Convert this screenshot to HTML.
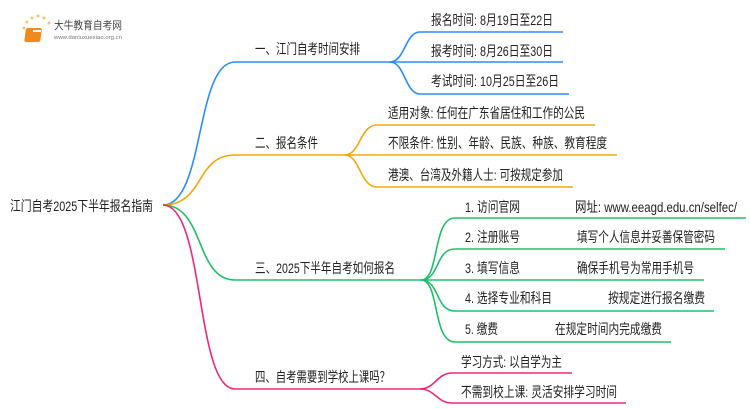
<!DOCTYPE html>
<html><head><meta charset="utf-8"><style>
html,body{margin:0;padding:0;background:#fff;}
svg{display:block;}
text{font-family:"Liberation Sans","Noto Sans CJK SC",sans-serif;font-size:14px;fill:#222;dominant-baseline:central;}
</style></head><body>
<svg width="750" height="410" viewBox="0 0 750 410" xmlns="http://www.w3.org/2000/svg">
<g>
<circle cx="24" cy="28" r="1.5" fill="#f6c46a"/><circle cx="27" cy="22" r="1.5" fill="#f6c46a"/><circle cx="32" cy="18" r="1.5" fill="#f6c46a"/><circle cx="38" cy="16" r="1.5" fill="#f6c46a"/><circle cx="44" cy="18" r="1.5" fill="#f6c46a"/><circle cx="49" cy="23" r="1.5" fill="#f6c46a"/>
<rect x="30" y="28" width="16" height="14" rx="2" fill="#f08a1c" transform="skewX(-8)"/>
<rect x="33" y="30" width="8" height="2" fill="#fff"/>
<text x="54" y="26" textLength="68" lengthAdjust="spacingAndGlyphs" style="font-size:11px;fill:#444">大牛教育自考网</text>
<text x="54" y="38" textLength="68" lengthAdjust="spacingAndGlyphs" style="font-size:5px;fill:#777">www.daniuxuexiao.org.cn</text>
</g>
<text x="10" y="206" textLength="143" lengthAdjust="spacingAndGlyphs">江门自考2025下半年报名指南</text>
<g fill="none" stroke-width="1.6">
<path d="M163 205 C205 205,195 62,235 62 L375 62" stroke="#2b8cff"/>
<path d="M163 205 C205 205,195 155,235 155 L345 155" stroke="#f2a80c"/>
<path d="M163 205 C205 205,195 280,235 280 L421 280" stroke="#1fbf6a"/>
<path d="M163 205 C205 205,195 389,235 389 L420 389" stroke="#f0287a"/>
<path d="M390 62 C405 62,405 32,420 32 L563 32" stroke="#2b8cff"/>
<path d="M375 62 L563 62" stroke="#2b8cff"/>
<path d="M390 62 C405 62,405 94,420 94 L569 94" stroke="#2b8cff"/>
<path d="M345 155 C360 155,360 125,377 125 L595 125" stroke="#f2a80c"/>
<path d="M345 155 L617 155" stroke="#f2a80c"/>
<path d="M345 155 C360 155,360 187,377 187 L573 187" stroke="#f2a80c"/>
<path d="M421 280 C440 280,432 218,455 218 L746 218" stroke="#1fbf6a"/>
<path d="M421 280 C440 280,435 249,455 249 L725 249" stroke="#1fbf6a"/>
<path d="M421 280 L704 280" stroke="#1fbf6a"/>
<path d="M421 280 C440 280,435 311,455 311 L714 311" stroke="#1fbf6a"/>
<path d="M421 280 C440 280,432 342,455 342 L671 342" stroke="#1fbf6a"/>
<path d="M420 389 C435 389,437 373,452 373 L572 373" stroke="#f0287a"/>
<path d="M420 389 C435 389,437 403,452 403 L626 403" stroke="#f0287a"/>
</g>
<text x="255" y="49" textLength="105" lengthAdjust="spacingAndGlyphs">一、江门自考时间安排</text>
<text x="255" y="143" textLength="63" lengthAdjust="spacingAndGlyphs">二、报名条件</text>
<text x="255" y="268" textLength="140" lengthAdjust="spacingAndGlyphs">三、2025下半年自考如何报名</text>
<text x="255" y="377" textLength="135" lengthAdjust="spacingAndGlyphs">四、自考需要到学校上课吗？</text>
<text x="431" y="20" textLength="122" lengthAdjust="spacingAndGlyphs">报名时间: 8月19日至22日</text>
<text x="431" y="51" textLength="122" lengthAdjust="spacingAndGlyphs">报考时间: 8月26日至30日</text>
<text x="431" y="81" textLength="128" lengthAdjust="spacingAndGlyphs">考试时间: 10月25日至26日</text>
<text x="388" y="113" textLength="197" lengthAdjust="spacingAndGlyphs">适用对象: 任何在广东省居住和工作的公民</text>
<text x="388" y="143" textLength="219" lengthAdjust="spacingAndGlyphs">不限条件: 性别、年龄、民族、种族、教育程度</text>
<text x="388" y="175" textLength="175" lengthAdjust="spacingAndGlyphs">港澳、台湾及外籍人士: 可按规定参加</text>
<text x="465" y="207" textLength="55" lengthAdjust="spacingAndGlyphs">1. 访问官网</text><text x="575" y="207" textLength="162" lengthAdjust="spacingAndGlyphs">网址: www.eeagd.edu.cn/selfec/</text>
<text x="465" y="237" textLength="55" lengthAdjust="spacingAndGlyphs">2. 注册账号</text><text x="577" y="237" textLength="138" lengthAdjust="spacingAndGlyphs">填写个人信息并妥善保管密码</text>
<text x="465" y="268" textLength="55" lengthAdjust="spacingAndGlyphs">3. 填写信息</text><text x="577" y="268" textLength="117" lengthAdjust="spacingAndGlyphs">确保手机号为常用手机号</text>
<text x="465" y="298" textLength="87" lengthAdjust="spacingAndGlyphs">4. 选择专业和科目</text><text x="608" y="298" textLength="97" lengthAdjust="spacingAndGlyphs">按规定进行报名缴费</text>
<text x="465" y="329" textLength="33" lengthAdjust="spacingAndGlyphs">5. 缴费</text><text x="555" y="329" textLength="107" lengthAdjust="spacingAndGlyphs">在规定时间内完成缴费</text>
<text x="461" y="362" textLength="101" lengthAdjust="spacingAndGlyphs">学习方式: 以自学为主</text>
<text x="461" y="392" textLength="156" lengthAdjust="spacingAndGlyphs">不需到校上课: 灵活安排学习时间</text>
</svg>
</body></html>
